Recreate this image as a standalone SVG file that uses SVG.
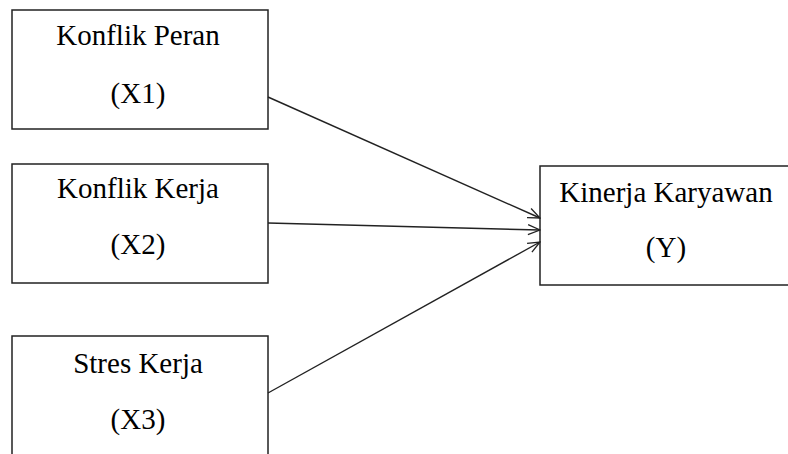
<svg xmlns="http://www.w3.org/2000/svg" width="788" height="454" viewBox="0 0 788 454">
<style>
.box{fill:#fff;stroke:#222;stroke-width:1.5}
.t{font-family:"Liberation Serif","Times New Roman",serif;font-size:29px;fill:#000;text-anchor:middle}
.c{fill:none;stroke:#222;stroke-width:1.4}
</style>
<defs>
<marker id="ah" markerWidth="14" markerHeight="12" refX="13" refY="6" orient="auto" markerUnits="userSpaceOnUse">
<path d="M1,1 L13,6 L1,11" fill="none" stroke="#222" stroke-width="1.3"/>
</marker>
</defs>
<rect width="788" height="454" fill="#fff"/>
<g id="x1">
<rect class="box" x="12" y="10" width="256" height="119"/>
<text class="t" x="138" y="45">Konflik Peran</text>
<text class="t" x="138" y="103">(X1)</text>
</g>
<g id="x2">
<rect class="box" x="12" y="164" width="256" height="119"/>
<text class="t" x="138" y="198">Konflik Kerja</text>
<text class="t" x="138" y="254">(X2)</text>
</g>
<g id="x3">
<rect class="box" x="12" y="336" width="256" height="130"/>
<text class="t" x="138" y="373">Stres Kerja</text>
<text class="t" x="138" y="429">(X3)</text>
</g>
<g id="y">
<rect class="box" x="540" y="166" width="260" height="119"/>
<text class="t" x="666" y="202">Kinerja Karyawan</text>
<text class="t" x="666" y="257">(Y)</text>
</g>
<g id="connectors">
<line class="c" x1="268" y1="97" x2="540" y2="218" marker-end="url(#ah)"/>
<line class="c" x1="268" y1="223" x2="540" y2="230" marker-end="url(#ah)"/>
<line class="c" x1="268" y1="393" x2="540" y2="242" marker-end="url(#ah)"/>
</g>
</svg>
